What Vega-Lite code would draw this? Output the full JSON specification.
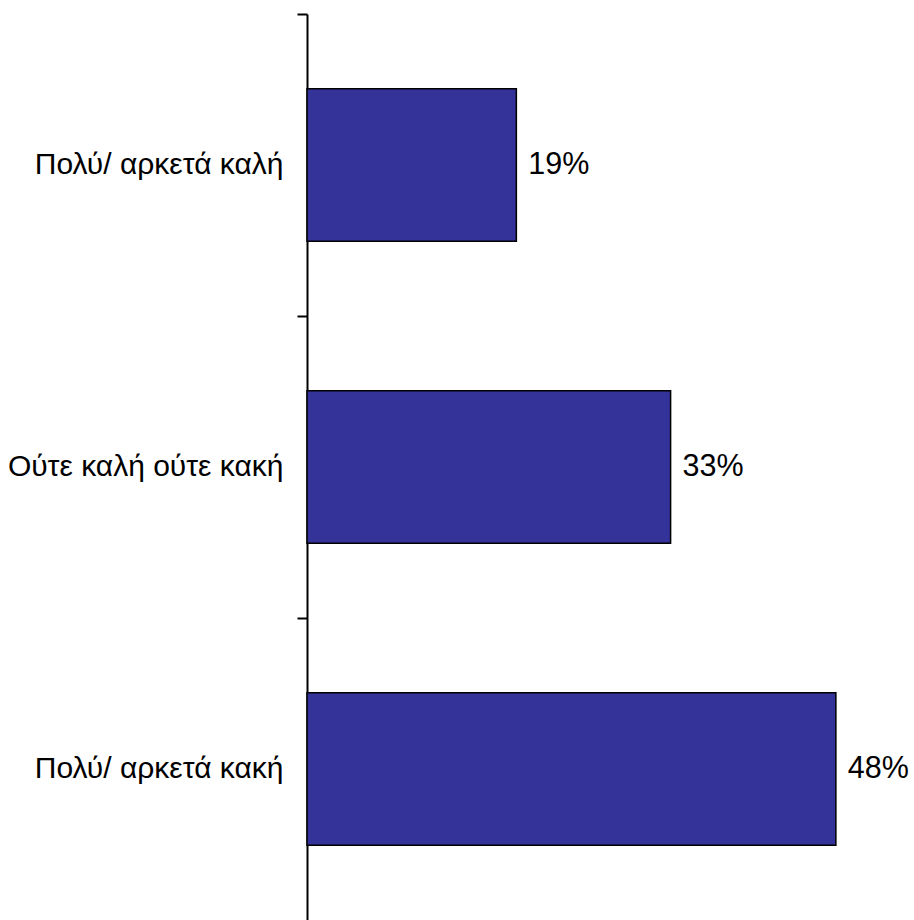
{
  "$schema": "https://vega.github.io/schema/vega-lite/v6.json",
  "autosize": "none",
  "padding": {"left": 307, "top": 14, "right": 0, "bottom": 0},
  "width": 606,
  "height": 906,
  "background": "white",
  "config": {"view": {"stroke": null}, "font": "Liberation Sans"},
  "data": {"values": [
    {"category": "Πολύ/ αρκετά καλή", "value": 0.19},
    {"category": "Ούτε καλή ούτε κακή", "value": 0.33},
    {"category": "Πολύ/ αρκετά κακή", "value": 0.48}
  ]},
  "encoding": {
    "y": {"field": "category", "type": "nominal", "sort": null,
      "scale": {"paddingInner": 0, "paddingOuter": 0},
      "axis": {"title": null, "bandPosition": 0, "labelOffset": 0, "labelLimit": 400, "domainColor": "black", "domainWidth": 2, "tickColor": "black", "tickWidth": 2, "tickSize": 10, "labelFontSize": 30, "labelColor": "black", "labelPadding": 14, "labelFont": "Liberation Sans"}},
    "x": {"field": "value", "type": "quantitative", "scale": {"domain": [0, 0.55], "nice": false}, "axis": null}
  },
  "layer": [
    {"mark": {"type": "bar", "height": {"band": 0.505}, "color": "#333399", "stroke": "black", "strokeWidth": 1.5}},
    {"mark": {"type": "text", "align": "left", "baseline": "middle", "dx": 12, "fontSize": 30.5, "color": "black", "font": "Liberation Sans"},
     "encoding": {"text": {"field": "value", "type": "quantitative", "format": ".0%"}}}
  ]
}
